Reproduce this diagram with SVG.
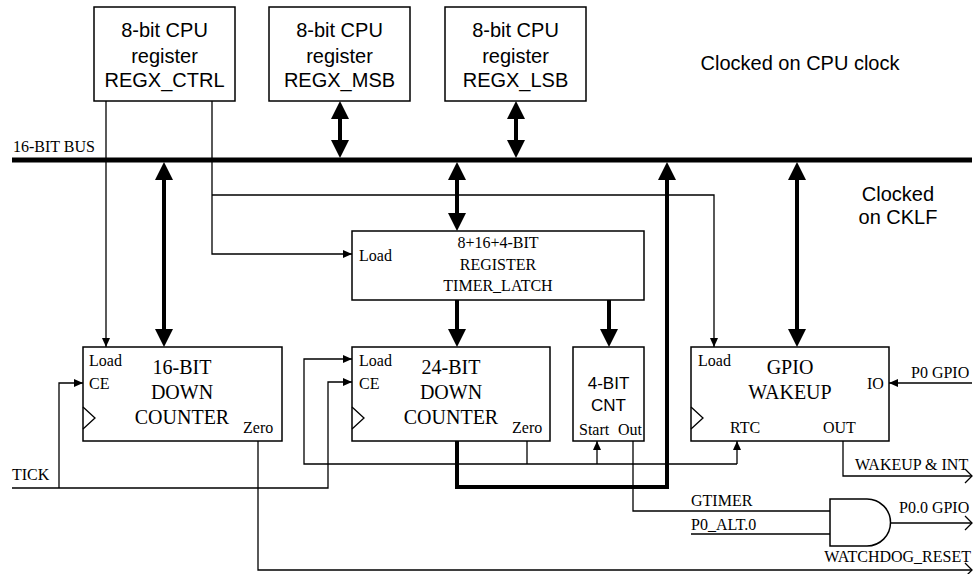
<svg xmlns="http://www.w3.org/2000/svg" width="976" height="574" viewBox="0 0 976 574">
<style>
.box{fill:#fff;stroke:#000;stroke-width:1.5}
.w{fill:none;stroke:#000;stroke-width:1.3}
.tw{fill:none;stroke:#000;stroke-width:4}
.a{font-family:"Liberation Sans",Arial,sans-serif;font-size:20px;fill:#000}
.t{font-family:"Liberation Serif","Times New Roman",serif;font-size:16px;fill:#000}
.tb{font-family:"Liberation Serif","Times New Roman",serif;font-size:20px;fill:#000}
.m{text-anchor:middle}
.e{text-anchor:end}
</style>
<defs>
<marker id="ar" markerUnits="userSpaceOnUse" markerWidth="9" markerHeight="8" viewBox="0 0 9 8" refX="9" refY="4" orient="auto"><path d="M0,0 L9,4 L0,8 z" fill="#000"/></marker>
<marker id="tk" markerUnits="userSpaceOnUse" markerWidth="18" markerHeight="18" viewBox="0 0 18 18" refX="14" refY="9" orient="auto-start-reverse"><path d="M0,0 L18,9 L0,18 z" fill="#000"/></marker>
<marker id="ch" markerUnits="userSpaceOnUse" markerWidth="10" markerHeight="16" viewBox="0 0 10 16" refX="8" refY="8" orient="auto" overflow="visible"><path d="M1,1 L8,8 L1,15" fill="none" stroke="#000" stroke-width="1.3"/></marker>
</defs>

<g id="labels">
<text class="a" x="800" y="70" text-anchor="middle">Clocked on CPU clock</text>
<text class="a m" x="898" y="201">Clocked</text>
<text class="a m" x="898" y="224">on CKLF</text>
<text class="t" x="13" y="152">16-BIT BUS</text>
<text class="t" x="12" y="480">TICK</text>
<text class="t" x="911" y="378">P0 GPIO</text>
<text class="t" x="855" y="470">WAKEUP &amp; INT</text>
<text class="t" x="691" y="506">GTIMER</text>
<text class="t" x="691" y="530">P0_ALT.0</text>
<text class="t" x="899" y="513">P0.0 GPIO</text>
<text class="t e" x="971" y="562">WATCHDOG_RESET</text>
</g>

<g id="connectors">
<path class="w" d="M12,160 H972" style="stroke-width:5"/>
<path class="tw" d="M340,105 V154" marker-start="url(#tk)" marker-end="url(#tk)"/>
<path class="tw" d="M516,105 V154" marker-start="url(#tk)" marker-end="url(#tk)"/>
<path class="tw" d="M164,166 V343" marker-start="url(#tk)" marker-end="url(#tk)"/>
<path class="tw" d="M457,166 V227" marker-start="url(#tk)" marker-end="url(#tk)"/>
<path class="tw" d="M797,166 V343" marker-start="url(#tk)" marker-end="url(#tk)"/>
<path class="tw" d="M457,300 V343" marker-end="url(#tk)"/>
<path class="tw" d="M609,300 V343" marker-end="url(#tk)"/>
<path class="tw" d="M457,441 V487 H667 V166" marker-end="url(#tk)"/>
<path class="w" d="M106,101 V347" marker-end="url(#ar)"/>
<path class="w" d="M212,101 V254 H352" marker-end="url(#ar)"/>
<path class="w" d="M212,195 H714 V347" marker-end="url(#ar)"/>
<path class="w" d="M12,488 H328 V382 H352" marker-end="url(#ar)"/>
<path class="w" d="M59,488 V383 H83" marker-end="url(#ar)"/>
<path class="w" d="M258,441 V570 H972" marker-end="url(#ch)"/>
<path class="w" d="M527,441 V464"/>
<path class="w" d="M737,464 H304 V359 H352" marker-end="url(#ar)"/>
<path class="w" d="M737,464 V441" marker-end="url(#ar)"/>
<path class="w" d="M597,464 V441" marker-end="url(#ar)"/>
<path class="w" d="M633,441 V511 H830"/>
<path class="w" d="M691,534 H830"/>
<path class="w" d="M891,523 H972" marker-end="url(#ch)"/>
<path class="w" d="M843,441 V476 H972" marker-end="url(#ch)"/>
<path class="w" d="M972,383 H889" marker-end="url(#ar)"/>
</g>

<g id="regx_ctrl">
<rect class="box" x="94" y="7" width="141" height="94"/>
<text class="a m" x="164.5" y="37">8-bit CPU</text>
<text class="a m" x="164.5" y="63">register</text>
<text class="a m" x="164.5" y="87">REGX_CTRL</text>
</g>
<g id="regx_msb">
<rect class="box" x="269" y="7" width="141" height="94"/>
<text class="a m" x="339.5" y="37">8-bit CPU</text>
<text class="a m" x="339.5" y="63">register</text>
<text class="a m" x="339.5" y="87">REGX_MSB</text>
</g>
<g id="regx_lsb">
<rect class="box" x="445" y="7" width="141" height="94"/>
<text class="a m" x="515.5" y="37">8-bit CPU</text>
<text class="a m" x="515.5" y="63">register</text>
<text class="a m" x="515.5" y="87">REGX_LSB</text>
</g>

<g id="timer_latch">
<rect class="box" x="352" y="231" width="292" height="69"/>
<text class="t" x="359" y="261">Load</text>
<text class="t m" x="498" y="248">8+16+4-BIT</text>
<text class="t m" x="498" y="270">REGISTER</text>
<text class="t m" x="498" y="291">TIMER_LATCH</text>
</g>

<g id="counter16">
<rect class="box" x="83" y="347" width="199" height="94"/>
<path class="w" d="M83,407 L95,418 L83,429"/>
<text class="t" x="89" y="366">Load</text>
<text class="t" x="89" y="389">CE</text>
<text class="t" x="243" y="433">Zero</text>
<text class="tb m" x="182" y="374">16-BIT</text>
<text class="tb m" x="182" y="399">DOWN</text>
<text class="tb m" x="182" y="424">COUNTER</text>
</g>

<g id="counter24">
<rect class="box" x="352" y="347" width="198" height="94"/>
<path class="w" d="M352,407 L364,418 L352,429"/>
<text class="t" x="359" y="366">Load</text>
<text class="t" x="359" y="389">CE</text>
<text class="t" x="512" y="433">Zero</text>
<text class="tb m" x="451" y="374">24-BIT</text>
<text class="tb m" x="451" y="399">DOWN</text>
<text class="tb m" x="451" y="424">COUNTER</text>
</g>

<g id="cnt4">
<rect class="box" x="573" y="347" width="71" height="94"/>
<text class="a m" x="608.5" y="389" style="font-size:17px">4-BIT</text>
<text class="a m" x="608.5" y="411" style="font-size:17px">CNT</text>
<text class="t" x="579" y="435">Start</text>
<text class="t" x="618" y="435">Out</text>
</g>

<g id="gpio_wakeup">
<rect class="box" x="691" y="347" width="198" height="94"/>
<path class="w" d="M691,407 L703,418 L691,429"/>
<text class="t" x="698" y="366">Load</text>
<text class="t" x="867" y="389">IO</text>
<text class="t" x="730" y="433">RTC</text>
<text class="t" x="823" y="433">OUT</text>
<text class="tb m" x="790" y="374">GPIO</text>
<text class="tb m" x="790" y="399">WAKEUP</text>
</g>

<g id="and_gate">
<path class="box" d="M830,499 H867 A23.5,23.5 0 0 1 867,546 H830 Z"/>
</g>
</svg>
